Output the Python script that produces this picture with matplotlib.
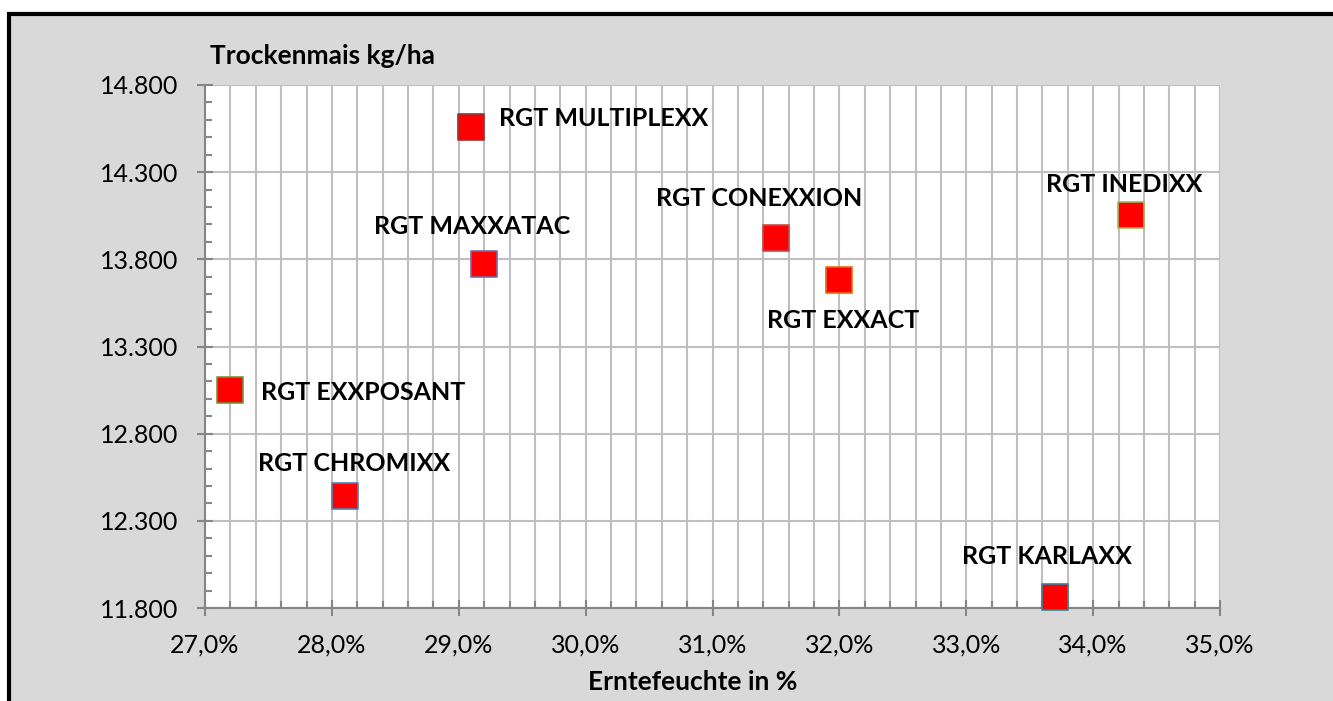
import matplotlib
matplotlib.use('Agg')
import numpy as np
import matplotlib.pyplot as plt
from matplotlib.patches import Rectangle
from matplotlib.ticker import MultipleLocator, FixedLocator, FuncFormatter

# Data
sorten = ['RGT MULTIPLEXX', 'RGT MAXXATAC', 'RGT CONEXXION', 'RGT EXXACT',
          'RGT INEDIXX', 'RGT EXXPOSANT', 'RGT CHROMIXX', 'RGT KARLAXX']
feuchte = [29.1, 29.2, 31.5, 32.0, 34.3, 27.2, 28.1, 33.7]          # Erntefeuchte in %
ertrag = [14560, 13775, 13920, 13680, 14055, 13050, 12440, 11865]    # Trockenmais kg/ha

# Styling per point (edge colour, label offset in pixels, alignment)
edge_colors = ['#943634', '#8064A2', '#C0504D', '#E46C0A',
               '#9BBB59', '#77933C', '#4F81BD', '#31859C']
label_offsets = [(28, 8), (-12, 37), (-17, 40), (4, -40),
                 (-7, 30), (31, -2), (10, 33), (-8, 40)]
label_ha = ['left', 'center', 'center', 'center', 'center', 'left', 'center', 'center']

plt.rcParams['font.family'] = ['Lato', 'DejaVu Sans']

fig = plt.figure(figsize=(13.33, 7.01), dpi=100)
fig.patch.set_facecolor('white')

# Chart area background with black border (cut off right and bottom)
bg = Rectangle((8.5 / 1333, -0.05), 1.1, 1 - 14 / 701 + 0.05,
               transform=fig.transFigure, facecolor='#D9D9D9',
               edgecolor='black', linewidth=3, zorder=-10)
fig.add_artist(bg)

ax = fig.add_axes([205 / 1333, 1 - 608 / 701, 1015 / 1333, 523 / 701])
ax.set_facecolor('white')
ax.set_axisbelow(True)

ax.set_xlim(27, 35)
ax.set_ylim(11800, 14800)

ax.xaxis.set_major_locator(MultipleLocator(1))
ax.xaxis.set_minor_locator(MultipleLocator(0.2))
ax.yaxis.set_major_locator(FixedLocator(np.arange(11800, 14801, 500)))
ax.yaxis.set_minor_locator(FixedLocator(np.arange(11800, 14801, 100)))

ax.xaxis.set_major_formatter(FuncFormatter(lambda v, p: f'{v:.1f}%'.replace('.', ',')))
ax.yaxis.set_major_formatter(FuncFormatter(lambda v, p: f'{v:,.0f}'.replace(',', '.')))

grid_col = '#BFBFBF'
ax.grid(True, which='both', axis='x', color=grid_col, linewidth=1.5)
ax.grid(True, which='major', axis='y', color=grid_col, linewidth=1.5)

for side in ['top', 'right']:
    ax.spines[side].set_visible(False)
for side in ['left', 'bottom']:
    ax.spines[side].set_color('#868686')
    ax.spines[side].set_linewidth(1.5)

ax.tick_params(which='major', direction='inout', length=11, width=1.5,
               color='#868686', labelsize=18, labelcolor='black')
ax.tick_params(which='minor', direction='in', length=5, width=1.5, color='#868686')
ax.tick_params(axis='y', which='major', pad=14)
ax.tick_params(axis='x', which='major', pad=13)

for i in range(len(sorten)):
    ax.scatter(feuchte[i], ertrag[i], marker='s', s=18.5 ** 2, facecolor='#FF0000',
               edgecolor=edge_colors[i], linewidth=1.2, zorder=3, clip_on=False)
    ax.annotate(sorten[i], (feuchte[i], ertrag[i]), xytext=label_offsets[i],
                textcoords='offset pixels', ha=label_ha[i], va='center',
                fontsize=18, fontweight='bold', zorder=4)

fig.text(210 / 1333, 1 - 56 / 701, 'Trockenmais kg/ha', fontsize=19,
         fontweight='bold', ha='left', va='center')
fig.text(693 / 1333, 1 - 682 / 701, 'Erntefeuchte in %', fontsize=19,
         fontweight='bold', ha='center', va='center')

fig.savefig('out.png', dpi=100)
